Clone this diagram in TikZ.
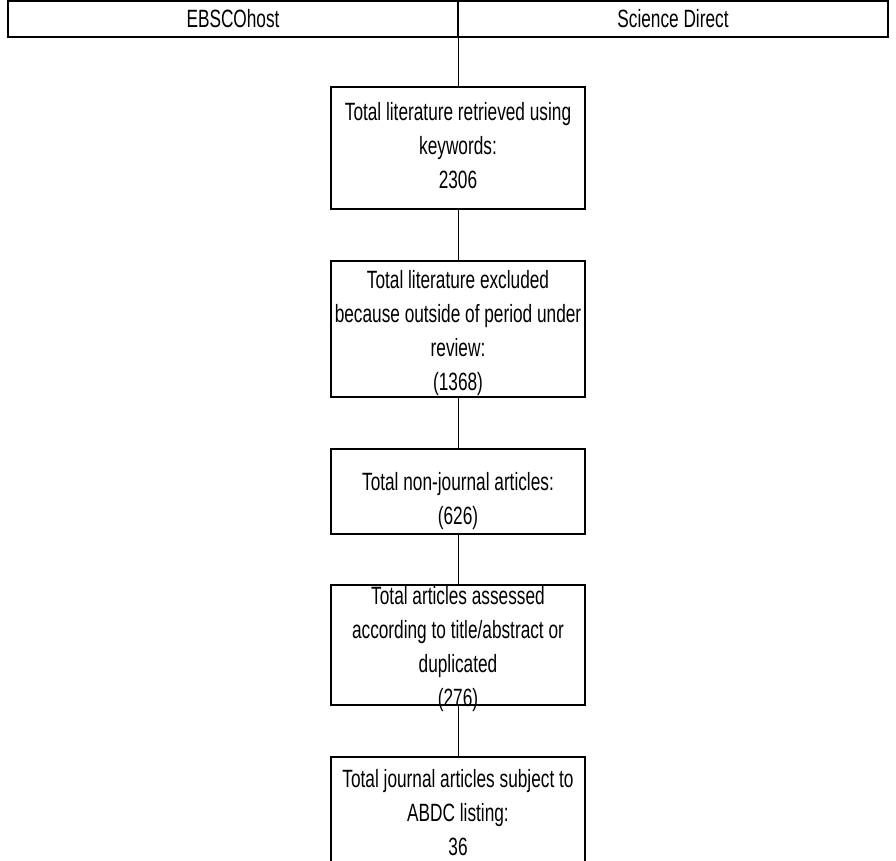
\documentclass[tikz,border=0pt]{standalone}
\usepackage{fontspec}
\setmainfont{Liberation Sans}[FakeStretch=0.69]
\newcommand\mylines[2]{\raisebox{\dimexpr #1-6.25pt\relax}[0pt][0pt]{\begin{tabular}{@{}c@{}}#2\end{tabular}}}
\begin{document}
\begin{tikzpicture}[x=1pt,y=-1pt,
  box/.style={draw,line width=2pt,minimum width=254pt,inner sep=0pt,font=\fontsize{25}{34}\selectfont},
  cell/.style={draw,line width=2pt,minimum height=36pt,inner sep=0pt,font=\fontsize{25}{30}\selectfont},
  link/.style={line width=1pt}]
\useasboundingbox (0,0) rectangle (896,861);
\node[cell,minimum width=450pt] (ebsco) at (233,19) {EBSCOhost};
\node[cell,minimum width=430pt] (sd) at (673,19) {Science Direct};
\node[box,minimum height=122pt] (b1) at (458,148) {\mylines{0pt}{Total literature retrieved using\\keywords:\\2306}};
\node[box,minimum height=136pt] (b2) at (458,329) {\mylines{-4pt}{Total literature excluded\\because outside of period under\\review:\\(1368)}};
\node[box,minimum height=85pt] (b3) at (458,491) {\mylines{-10pt}{Total non-journal articles:\\(626)}};
\node[box,minimum height=120pt] (b4) at (458,645) {\mylines{-3.5pt}{Total articles assessed\\according to title/abstract or\\duplicated\\(276)}};
\node[box,minimum height=116pt] (b5) at (458,815) {\mylines{0pt}{Total journal articles subject to\\ABDC listing:\\36}};
\coordinate (top) at (b1.north |- ebsco.south);
\draw[link] (top) -- (b1.north);
\draw[link] (b1.south) -- (b2.north);
\draw[link] (b2.south) -- (b3.north);
\draw[link] (b3.south) -- (b4.north);
\draw[link] (b4.south) -- (b5.north);
\end{tikzpicture}
\end{document}
